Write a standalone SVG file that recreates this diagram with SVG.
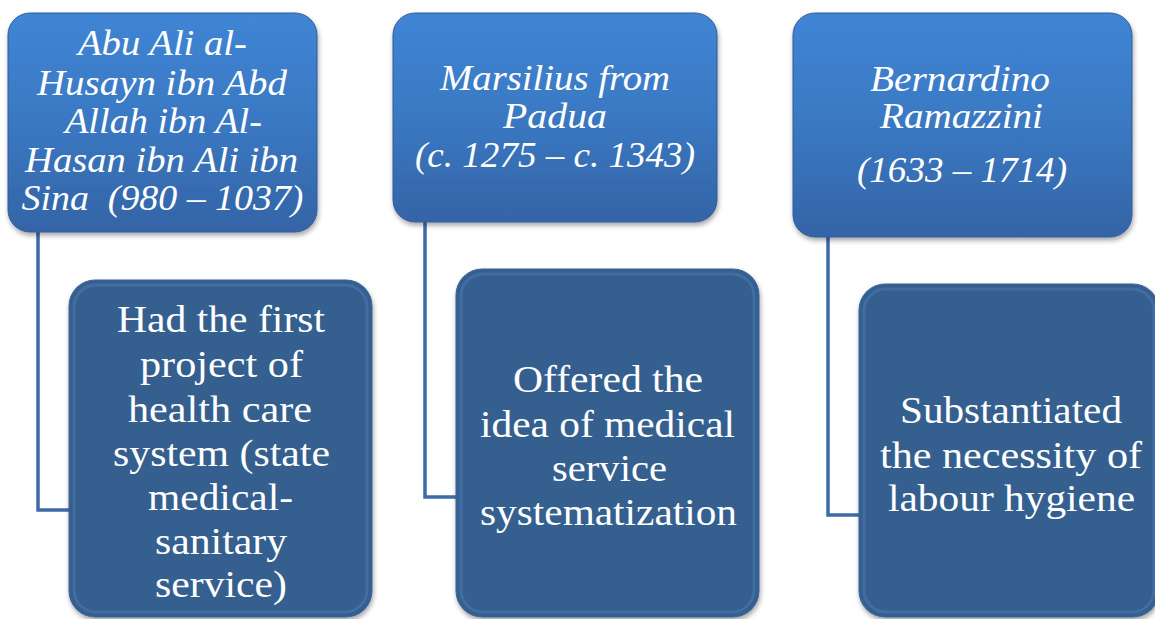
<svg xmlns="http://www.w3.org/2000/svg" width="1155" height="619" viewBox="0 0 1155 619">
<style>
.top{fill:url(#gTop);stroke:#2f5d9a;stroke-width:1}
.bot{fill:#365e8f;stroke:#3a659b;stroke-width:1}
.hl{fill:none;stroke:url(#gEdge);stroke-width:5;opacity:0.75}
.hlb{fill:none;stroke:#4a76ad;stroke-width:3;opacity:0.6}
text{font-family:"Liberation Serif","Times New Roman",Tinos,"Noto Serif","DejaVu Serif",FreeSerif,Georgia,serif;fill:#ffffff;text-anchor:middle}
.ti{font-style:italic;font-size:35px}
.tb{font-size:38px}
.conn{fill:none;stroke:#3d6ba8;stroke-width:3.5}
</style>
<defs>
<linearGradient id="gTop" x1="0" y1="0" x2="0" y2="1">
<stop offset="0" stop-color="#3f85d5"/>
<stop offset="0.5" stop-color="#3a78c2"/>
<stop offset="1" stop-color="#3464a6"/>
</linearGradient>
<linearGradient id="gEdge" x1="0" y1="0" x2="0" y2="1">
<stop offset="0" stop-color="#9fd0ff"/>
<stop offset="1" stop-color="#5a9ce0"/>
</linearGradient>
<filter id="sh" x="-10%" y="-10%" width="120%" height="120%">
<feDropShadow dx="1" dy="3" stdDeviation="2.5" flood-color="#000" flood-opacity="0.35"/>
</filter>
</defs>
<rect width="1155" height="619" fill="#ffffff"/>
<g id="connectors">
<polyline class="conn" points="38,232 38,510 70,510"/>
<polyline class="conn" points="425,222 425,497 456,497"/>
<polyline class="conn" points="828,237 828,515 859,515"/>
</g>
<g id="node-ibnsina">
<rect class="top" x="8" y="13" width="309" height="219" rx="22" filter="url(#sh)"/>
<line class="hl" x1="22" y1="33" x2="22" y2="212"/>
<line class="hl" x1="303" y1="33" x2="303" y2="212"/>
<text class="ti" x="162.5" y="55" textLength="169" lengthAdjust="spacingAndGlyphs">Abu Ali al-</text>
<text class="ti" x="162" y="95" textLength="250" lengthAdjust="spacingAndGlyphs">Husayn ibn Abd</text>
<text class="ti" x="163.5" y="133" textLength="197" lengthAdjust="spacingAndGlyphs">Allah ibn Al-</text>
<text class="ti" x="161.5" y="172" textLength="273" lengthAdjust="spacingAndGlyphs">Hasan ibn Ali ibn</text>
<text class="ti" x="162.5" y="210" textLength="282" lengthAdjust="spacingAndGlyphs" xml:space="preserve">Sina  (980 – 1037)</text>
</g>
<g id="node-marsilius">
<rect class="top" x="393" y="13" width="324" height="209" rx="22" filter="url(#sh)"/>
<line class="hl" x1="407" y1="33" x2="407" y2="202"/>
<line class="hl" x1="703" y1="33" x2="703" y2="202"/>
<text class="ti" x="555" y="90" textLength="230" lengthAdjust="spacingAndGlyphs">Marsilius from</text>
<text class="ti" x="555" y="128" textLength="104" lengthAdjust="spacingAndGlyphs">Padua</text>
<text class="ti" x="555" y="167" textLength="280" lengthAdjust="spacingAndGlyphs">(c. 1275 – c. 1343)</text>
</g>
<g id="node-ramazzini">
<rect class="top" x="793" y="13" width="339" height="224" rx="22" filter="url(#sh)"/>
<line class="hl" x1="807" y1="33" x2="807" y2="217"/>
<line class="hl" x1="1118" y1="33" x2="1118" y2="217"/>
<text class="ti" x="960" y="91" textLength="180" lengthAdjust="spacingAndGlyphs">Bernardino</text>
<text class="ti" x="961.5" y="128" textLength="163" lengthAdjust="spacingAndGlyphs">Ramazzini</text>
<text class="ti" x="962" y="182" textLength="210" lengthAdjust="spacingAndGlyphs">(1633 – 1714)</text>
</g>
<g id="node-healthcare">
<rect class="bot" x="69" y="280" width="303" height="337" rx="26" filter="url(#sh)"/>
<rect class="hlb" x="74" y="285" width="293" height="327" rx="22"/>
<text class="tb" x="221" y="332" textLength="208" lengthAdjust="spacingAndGlyphs">Had the first</text>
<text class="tb" x="221.5" y="377" textLength="163" lengthAdjust="spacingAndGlyphs">project of</text>
<text class="tb" x="220" y="422" textLength="184" lengthAdjust="spacingAndGlyphs">health care</text>
<text class="tb" x="221.5" y="466" textLength="217" lengthAdjust="spacingAndGlyphs">system (state</text>
<text class="tb" x="220.5" y="510" textLength="145" lengthAdjust="spacingAndGlyphs">medical-</text>
<text class="tb" x="221" y="554" textLength="132" lengthAdjust="spacingAndGlyphs">sanitary</text>
<text class="tb" x="221" y="597" textLength="132" lengthAdjust="spacingAndGlyphs">service)</text>
</g>
<g id="node-systematization">
<rect class="bot" x="456" y="269" width="303" height="348" rx="26" filter="url(#sh)"/>
<rect class="hlb" x="461" y="274" width="293" height="338" rx="22"/>
<text class="tb" x="608" y="392" textLength="190" lengthAdjust="spacingAndGlyphs">Offered the</text>
<text class="tb" x="607.5" y="437" textLength="255" lengthAdjust="spacingAndGlyphs">idea of medical</text>
<text class="tb" x="609.5" y="481" textLength="115" lengthAdjust="spacingAndGlyphs">service</text>
<text class="tb" x="608.5" y="525" textLength="257" lengthAdjust="spacingAndGlyphs">systematization</text>
</g>
<g id="node-hygiene">
<rect class="bot" x="859" y="284" width="300" height="333" rx="26" filter="url(#sh)"/>
<rect class="hlb" x="864" y="289" width="290" height="323" rx="22"/>
<text class="tb" x="1011" y="423" textLength="222" lengthAdjust="spacingAndGlyphs">Substantiated</text>
<text class="tb" x="1011" y="468" textLength="262" lengthAdjust="spacingAndGlyphs">the necessity of</text>
<text class="tb" x="1011.5" y="511" textLength="247" lengthAdjust="spacingAndGlyphs">labour hygiene</text>
</g>
</svg>
